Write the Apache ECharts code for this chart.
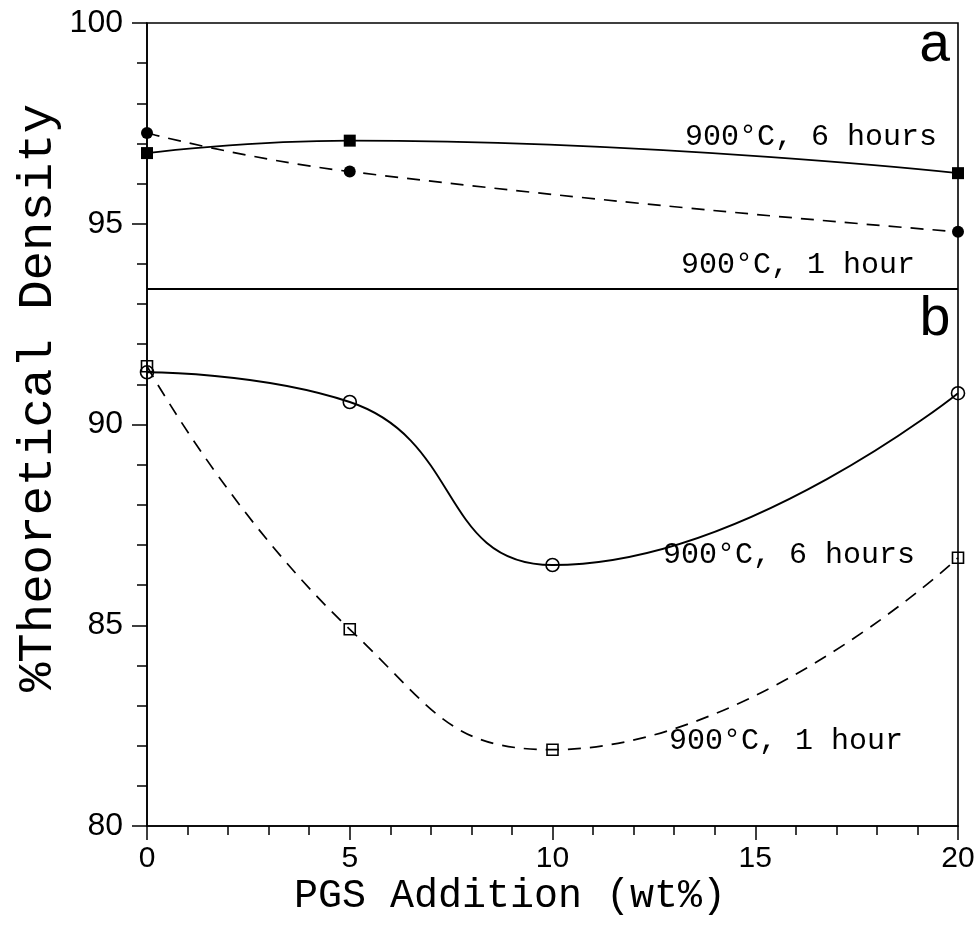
<!DOCTYPE html>
<html>
<head>
<meta charset="utf-8">
<script src="https://cdn.jsdelivr.net/npm/echarts@6/dist/echarts.min.js"></script>
<style>html,body{margin:0;padding:0;background:#fff}#c{width:979px;height:929px}</style>
</head>
<body>
<div id="c"></div>
<script>
// Panel a (upper)
const aX = [0, 5, 20];
const aSixHours = [96.76, 97.07, 96.26];   // filled squares, solid
const aOneHour = [97.26, 96.30, 94.80];    // filled circles, dashed
// Panel b (lower)
const bX = [0, 5, 10, 20];
const bSixHours = [91.30, 90.56, 86.50, 90.78]; // open circles, solid
const bOneHour = [91.45, 84.90, 81.90, 86.68];  // open squares, dashed
const panelDivider = 93.37;
const yTicks = [80, 85, 90, 95, 100];
const xTicks = [0, 5, 10, 15, 20];

const pairs = (xs, ys) => xs.map((x, i) => [x, ys[i]]);
const chart = echarts.init(document.getElementById('c'), null, {renderer: 'canvas'});
const mono = 'Liberation Mono';
const sans = 'Liberation Sans';
const dash = [13, 9];

chart.setOption({
  animation: false,
  backgroundColor: '#fff',
  grid: {left: 147, right: 21, top: 23, bottom: 103, show: true, borderColor: '#000', borderWidth: 1.6, backgroundColor: 'transparent'},
  xAxis: {
    type: 'value', min: 0, max: 20, interval: 5,
    axisLine: {show: true, onZero: false, lineStyle: {color: '#000', width: 1.6}},
    axisTick: {show: true, length: 14, lineStyle: {color: '#000', width: 1.5}},
    minorTick: {show: true, splitNumber: 5, length: 9, lineStyle: {color: '#000', width: 1.5}},
    splitLine: {show: false},
    axisLabel: {fontFamily: sans, fontSize: 30, color: '#000', margin: 18,
      formatter: v => xTicks.includes(v) ? String(v) : ''}
  },
  yAxis: {
    type: 'value', min: 80, max: 100, interval: 5,
    axisLine: {show: true, lineStyle: {color: '#000', width: 1.6}},
    axisTick: {show: true, length: 15, lineStyle: {color: '#000', width: 1.5}},
    minorTick: {show: true, splitNumber: 5, length: 10, lineStyle: {color: '#000', width: 1.5}},
    splitLine: {show: false},
    axisLabel: {fontFamily: sans, fontSize: 32, color: '#000', margin: 24,
      formatter: v => yTicks.includes(v) ? String(v) : ''}
  },
  series: [
    {
      type: 'line', data: pairs(aX, aSixHours), smooth: 0.5,
      symbol: 'rect', symbolSize: 12,
      lineStyle: {color: '#000', width: 1.9},
      itemStyle: {color: '#000'},
      markLine: {
        silent: true, symbol: ['none', 'none'], label: {show: false},
        lineStyle: {color: '#000', width: 1.9, type: 'solid'},
        data: [{yAxis: panelDivider}]
      }
    },
    {
      type: 'line', data: pairs(aX, aOneHour), smooth: 0.5,
      symbol: 'circle', symbolSize: 12,
      lineStyle: {color: '#000', width: 1.7, type: dash},
      itemStyle: {color: '#000'}
    },
    {
      type: 'line', data: pairs(bX, bSixHours), smooth: 0.5,
      symbol: 'circle', symbolSize: 13,
      lineStyle: {color: '#000', width: 1.9},
      itemStyle: {color: 'rgba(0,0,0,0)', borderColor: '#000', borderWidth: 1.6}
    },
    {
      type: 'line', data: pairs(bX, bOneHour), smooth: 0.5,
      symbol: 'rect', symbolSize: 11,
      lineStyle: {color: '#000', width: 1.7, type: dash},
      itemStyle: {color: 'rgba(0,0,0,0)', borderColor: '#000', borderWidth: 1.6}
    }
  ],
  graphic: [
    {type: 'text', x: 38, y: 398, rotation: Math.PI / 2,
      style: {text: '%Theoretical Density', font: '49px "' + mono + '"', fill: '#000', align: 'center', verticalAlign: 'middle'}},
    {type: 'text', x: 510, y: 896,
      style: {text: 'PGS Addition (wt%)', font: '40px "' + mono + '"', fill: '#000', align: 'center', verticalAlign: 'middle'}},
    {type: 'text', x: 935, y: 46,
      style: {text: 'a', font: '56px "' + mono + '"', fill: '#000', align: 'center', verticalAlign: 'middle'}},
    {type: 'text', x: 935, y: 320,
      style: {text: 'b', font: '56px "' + mono + '"', fill: '#000', align: 'center', verticalAlign: 'middle'}},
    {type: 'text', x: 937, y: 137,
      style: {text: '900°C, 6 hours', font: '30px "' + mono + '"', fill: '#000', align: 'right', verticalAlign: 'middle'}},
    {type: 'text', x: 915, y: 265,
      style: {text: '900°C, 1 hour', font: '30px "' + mono + '"', fill: '#000', align: 'right', verticalAlign: 'middle'}},
    {type: 'text', x: 915, y: 555,
      style: {text: '900°C, 6 hours', font: '30px "' + mono + '"', fill: '#000', align: 'right', verticalAlign: 'middle'}},
    {type: 'text', x: 903, y: 741,
      style: {text: '900°C, 1 hour', font: '30px "' + mono + '"', fill: '#000', align: 'right', verticalAlign: 'middle'}}
  ]
});
</script>
</body>
</html>
